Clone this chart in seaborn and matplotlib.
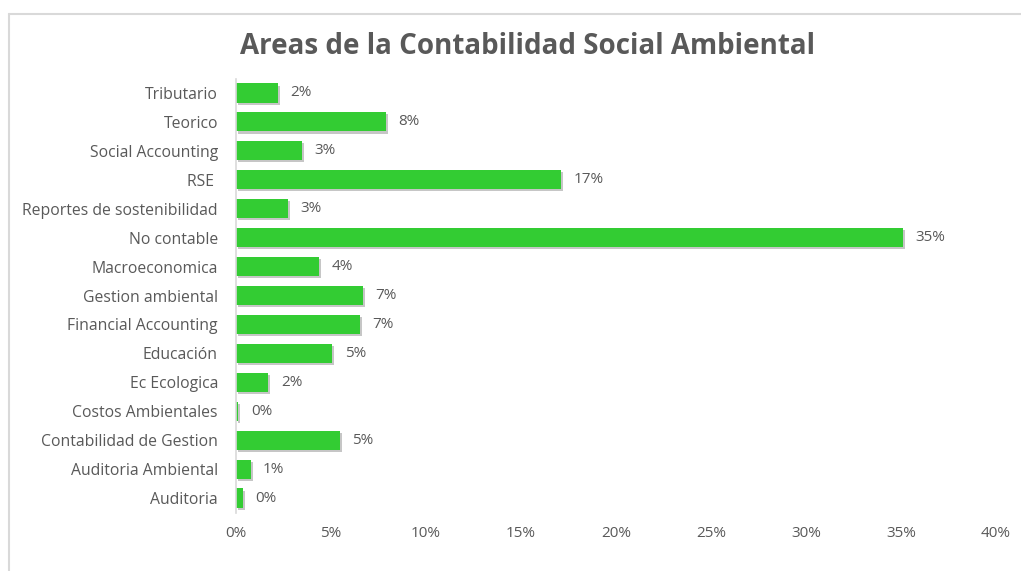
import matplotlib
matplotlib.use("Agg")
import matplotlib.pyplot as plt
import matplotlib.patheffects as pe
from matplotlib.lines import Line2D
from matplotlib.ticker import PercentFormatter, MultipleLocator
import seaborn as sns
import pandas as pd

categories = [
    "Tributario", "Teorico", "Social Accounting", "RSE ",
    "Reportes de sostenibilidad", "No contable", "Macroeconomica",
    "Gestion ambiental", "Financial Accounting", "Educación",
    "Ec Ecologica", "Costos Ambientales", "Contabilidad de Gestion",
    "Auditoria Ambiental", "Auditoria",
]
shares = [
    0.0219, 0.0790, 0.0346, 0.1709,
    0.0275, 0.3512, 0.0437,
    0.0667, 0.0653, 0.0507,
    0.0170, 0.0012, 0.0547,
    0.0077, 0.0038,
]

title = "Areas de la Contabilidad Social Ambiental"
bar_color = "#33CC33"
text_color = "#595959"

df = pd.DataFrame({"area": categories, "share": shares})

sns.set_theme(style="white")
plt.rcParams["font.family"] = ["Open Sans", "DejaVu Sans"]

fig = plt.figure(figsize=(10.21, 5.71), dpi=100)
fig.patch.set_facecolor("white")
ax = fig.add_axes([236 / 1021, 1 - 512.5 / 571, 760 / 1021, 434 / 571])

sns.barplot(data=df, x="share", y="area", orient="h", color=bar_color,
            saturation=1, width=0.66, linewidth=0, edgecolor="none", ax=ax)

shadow = [pe.SimplePatchShadow(offset=(1.5, -1.5), shadow_rgbFace="#444444",
                               alpha=0.3), pe.Normal()]
for patch in ax.patches:
    patch.set_path_effects(shadow)

for container in ax.containers:
    ax.bar_label(container, labels=[f"{v:.0%}" for v in container.datavalues],
                 padding=9, color=text_color, fontsize=11)

ax.set_xlim(0, 0.40)
ax.xaxis.set_major_locator(MultipleLocator(0.05))
ax.xaxis.set_major_formatter(PercentFormatter(xmax=1, decimals=0))
ax.set_xlabel("")
ax.set_ylabel("")
ax.tick_params(axis="x", length=0, pad=10, labelsize=11, labelcolor=text_color)
ax.tick_params(axis="y", length=0, pad=13, labelsize=11.3, labelcolor=text_color)

for side in ("top", "right", "bottom"):
    ax.spines[side].set_visible(False)
ax.spines["left"].set_color("#D9D9D9")
ax.spines["left"].set_linewidth(1.2)

fig.text(527 / 1021, 1 - 46 / 571, title, ha="center", va="center",
         fontsize=20, fontweight="bold", color=text_color)

# light frame along the top and left edges
fig.add_artist(Line2D([8.5 / 1021, 8.5 / 1021], [0, 1 - 14 / 571],
                      transform=fig.transFigure, color="#D9D9D9", lw=1.5))
fig.add_artist(Line2D([8.5 / 1021, 1], [1 - 14 / 571, 1 - 14 / 571],
                      transform=fig.transFigure, color="#D9D9D9", lw=1.5))

fig.savefig("out.png", dpi=100, facecolor="white")
